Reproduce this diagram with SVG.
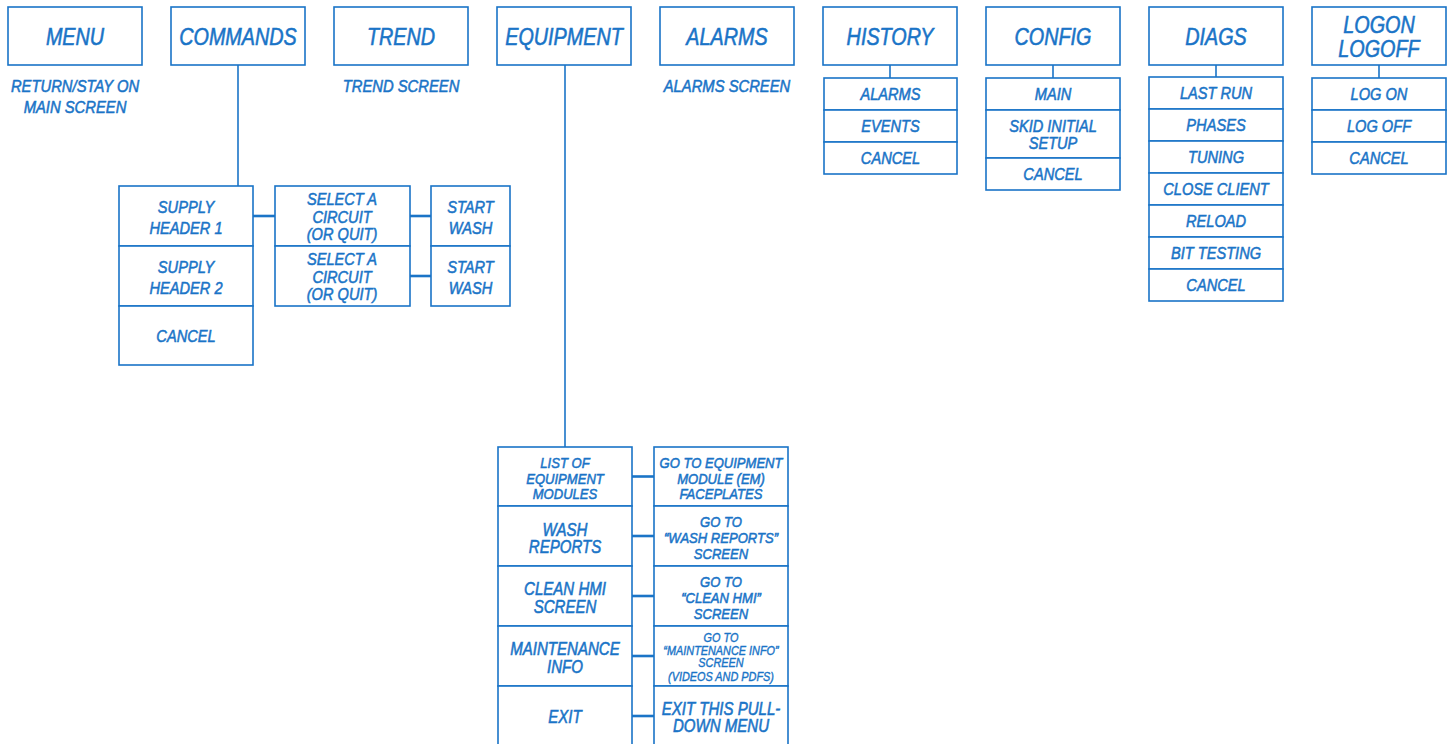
<svg xmlns="http://www.w3.org/2000/svg" width="1453" height="744" viewBox="0 0 1453 744">
<style>
.b{fill:#fff;stroke:#1a74c7;stroke-width:1.6}
.c{stroke:#1a74c7;stroke-width:1.6;fill:none}
.ct{stroke:#1a74c7;stroke-width:2.6;fill:none}
text{font-family:"Liberation Sans",Arial,sans-serif;font-style:italic;fill:#1a74c7;stroke:#1a74c7;stroke-width:0.55;text-anchor:middle}
.h{font-size:23px}
.s{font-size:17px}
.m{font-size:15px}
.l{font-size:17.5px}
.t{font-size:12.5px;stroke-width:0.4}
</style>
<rect width="1453" height="744" fill="#fff"/>
<g id="connectors">
<line class="c" x1="238" y1="65" x2="238" y2="186"/>
<line class="c" x1="565" y1="65" x2="565" y2="447"/>
<line class="c" x1="890" y1="65" x2="890" y2="78"/>
<line class="c" x1="1053" y1="65" x2="1053" y2="78"/>
<line class="c" x1="1216" y1="65" x2="1216" y2="77"/>
<line class="c" x1="1379" y1="65" x2="1379" y2="78"/>
<line class="ct" x1="253" y1="216" x2="275" y2="216"/>
<line class="ct" x1="410" y1="216" x2="431" y2="216"/>
<line class="ct" x1="410" y1="276" x2="431" y2="276"/>
<line class="ct" x1="632" y1="476.5" x2="654" y2="476.5"/>
<line class="ct" x1="632" y1="536" x2="654" y2="536"/>
<line class="ct" x1="632" y1="596" x2="654" y2="596"/>
<line class="ct" x1="632" y1="656" x2="654" y2="656"/>
<line class="ct" x1="632" y1="716" x2="654" y2="716"/>
</g>
<g id="menu">
<rect class="b" x="8" y="7" width="134" height="58"/>
<text class="h" transform="translate(75 45) scale(.86 1)">MENU</text>
<text class="s" transform="translate(75 92) scale(.87 1)">RETURN/STAY ON</text>
<text class="s" transform="translate(75 113) scale(.87 1)">MAIN SCREEN</text>
</g>
<g id="commands">
<rect class="b" x="171" y="7" width="134" height="58"/>
<text class="h" transform="translate(238 45) scale(.86 1)">COMMANDS</text>
</g>
<g id="trend">
<rect class="b" x="334" y="7" width="134" height="58"/>
<text class="h" transform="translate(401 45) scale(.86 1)">TREND</text>
<text class="s" transform="translate(401 92) scale(.87 1)">TREND SCREEN</text>
</g>
<g id="equipment">
<rect class="b" x="497" y="7" width="134" height="58"/>
<text class="h" transform="translate(564 45) scale(.86 1)">EQUIPMENT</text>
</g>
<g id="alarms">
<rect class="b" x="660" y="7" width="134" height="58"/>
<text class="h" transform="translate(727 45) scale(.86 1)">ALARMS</text>
<text class="s" transform="translate(727 92) scale(.87 1)">ALARMS SCREEN</text>
</g>
<g id="history">
<rect class="b" x="823" y="7" width="134" height="58"/>
<text class="h" transform="translate(890 45) scale(.86 1)">HISTORY</text>
</g>
<g id="config">
<rect class="b" x="986" y="7" width="134" height="58"/>
<text class="h" transform="translate(1053 45) scale(.86 1)">CONFIG</text>
</g>
<g id="diags">
<rect class="b" x="1149" y="7" width="134" height="58"/>
<text class="h" transform="translate(1216 45) scale(.86 1)">DIAGS</text>
</g>
<g id="logon">
<rect class="b" x="1312" y="7" width="134" height="58"/>
<text class="h" transform="translate(1379 33) scale(.86 1)">LOGON</text>
<text class="h" transform="translate(1379 57) scale(.86 1)">LOGOFF</text>
</g>
<g id="commands-sub">
<rect class="b" x="119" y="186" width="134" height="60"/>
<text class="s" transform="translate(186 213) scale(.86 1)">SUPPLY</text>
<text class="s" transform="translate(186 234) scale(.86 1)">HEADER 1</text>
<rect class="b" x="119" y="246" width="134" height="60"/>
<text class="s" transform="translate(186 273) scale(.86 1)">SUPPLY</text>
<text class="s" transform="translate(186 294) scale(.86 1)">HEADER 2</text>
<rect class="b" x="119" y="306" width="134" height="59"/>
<text class="s" transform="translate(186 342) scale(.86 1)">CANCEL</text>
</g>
<g id="select-circuit">
<rect class="b" x="275" y="186" width="135" height="60"/>
<text class="s" transform="translate(342 205) scale(.86 1)">SELECT A</text>
<text class="s" transform="translate(342 222.5) scale(.86 1)">CIRCUIT</text>
<text class="s" transform="translate(342 240) scale(.86 1)">(OR QUIT)</text>
<rect class="b" x="275" y="246" width="135" height="60"/>
<text class="s" transform="translate(342 265) scale(.86 1)">SELECT A</text>
<text class="s" transform="translate(342 282.5) scale(.86 1)">CIRCUIT</text>
<text class="s" transform="translate(342 300) scale(.86 1)">(OR QUIT)</text>
</g>
<g id="start-wash">
<rect class="b" x="431" y="186" width="79" height="60"/>
<text class="s" transform="translate(470.5 213) scale(.86 1)">START</text>
<text class="s" transform="translate(470.5 234) scale(.86 1)">WASH</text>
<rect class="b" x="431" y="246" width="79" height="60"/>
<text class="s" transform="translate(470.5 273) scale(.86 1)">START</text>
<text class="s" transform="translate(470.5 294) scale(.86 1)">WASH</text>
</g>
<g id="history-sub">
<rect class="b" x="824" y="78" width="133" height="32"/>
<text class="s" transform="translate(890.5 100) scale(.86 1)">ALARMS</text>
<rect class="b" x="824" y="110" width="133" height="32"/>
<text class="s" transform="translate(890.5 132) scale(.86 1)">EVENTS</text>
<rect class="b" x="824" y="142" width="133" height="32"/>
<text class="s" transform="translate(890.5 164) scale(.86 1)">CANCEL</text>
</g>
<g id="config-sub">
<rect class="b" x="986" y="78" width="134" height="32"/>
<text class="s" transform="translate(1053 100) scale(.86 1)">MAIN</text>
<rect class="b" x="986" y="110" width="134" height="48"/>
<text class="s" transform="translate(1053 131.5) scale(.86 1)">SKID INITIAL</text>
<text class="s" transform="translate(1053 149) scale(.86 1)">SETUP</text>
<rect class="b" x="986" y="158" width="134" height="32"/>
<text class="s" transform="translate(1053 180) scale(.86 1)">CANCEL</text>
</g>
<g id="diags-sub">
<rect class="b" x="1149" y="77" width="134" height="32"/>
<text class="s" transform="translate(1216 99) scale(.86 1)">LAST RUN</text>
<rect class="b" x="1149" y="109" width="134" height="32"/>
<text class="s" transform="translate(1216 131) scale(.86 1)">PHASES</text>
<rect class="b" x="1149" y="141" width="134" height="32"/>
<text class="s" transform="translate(1216 163) scale(.86 1)">TUNING</text>
<rect class="b" x="1149" y="173" width="134" height="32"/>
<text class="s" transform="translate(1216 195) scale(.86 1)">CLOSE CLIENT</text>
<rect class="b" x="1149" y="205" width="134" height="32"/>
<text class="s" transform="translate(1216 227) scale(.86 1)">RELOAD</text>
<rect class="b" x="1149" y="237" width="134" height="32"/>
<text class="s" transform="translate(1216 259) scale(.86 1)">BIT TESTING</text>
<rect class="b" x="1149" y="269" width="134" height="32"/>
<text class="s" transform="translate(1216 291) scale(.86 1)">CANCEL</text>
</g>
<g id="logon-sub">
<rect class="b" x="1312" y="78" width="134" height="32"/>
<text class="s" transform="translate(1379 100) scale(.86 1)">LOG ON</text>
<rect class="b" x="1312" y="110" width="134" height="32"/>
<text class="s" transform="translate(1379 132) scale(.86 1)">LOG OFF</text>
<rect class="b" x="1312" y="142" width="134" height="32"/>
<text class="s" transform="translate(1379 164) scale(.86 1)">CANCEL</text>
</g>
<g id="equipment-sub">
<rect class="b" x="498" y="447" width="134" height="59"/>
<text class="m" transform="translate(565 467.7) scale(.87 1)">LIST OF</text>
<text class="m" transform="translate(565 483.5) scale(.87 1)">EQUIPMENT</text>
<text class="m" transform="translate(565 499.3) scale(.87 1)">MODULES</text>
<rect class="b" x="498" y="506" width="134" height="60"/>
<text class="l" transform="translate(565 535.5) scale(.86 1)">WASH</text>
<text class="l" transform="translate(565 553.3) scale(.86 1)">REPORTS</text>
<rect class="b" x="498" y="566" width="134" height="60"/>
<text class="l" transform="translate(565 595) scale(.86 1)">CLEAN HMI</text>
<text class="l" transform="translate(565 612.7) scale(.86 1)">SCREEN</text>
<rect class="b" x="498" y="626" width="134" height="60"/>
<text class="l" transform="translate(565 655) scale(.86 1)">MAINTENANCE</text>
<text class="l" transform="translate(565 672.7) scale(.86 1)">INFO</text>
<rect class="b" x="498" y="686" width="134" height="62"/>
<text class="l" transform="translate(565 723.3) scale(.86 1)">EXIT</text>
</g>
<g id="equipment-actions">
<rect class="b" x="654" y="447" width="134" height="59"/>
<text class="m" transform="translate(721 467.7) scale(.87 1)">GO TO EQUIPMENT</text>
<text class="m" transform="translate(721 483.5) scale(.87 1)">MODULE (EM)</text>
<text class="m" transform="translate(721 499.3) scale(.87 1)">FACEPLATES</text>
<rect class="b" x="654" y="506" width="134" height="60"/>
<text class="m" transform="translate(721 527.3) scale(.87 1)">GO TO</text>
<text class="m" transform="translate(721 543.3) scale(.87 1)">“WASH REPORTS”</text>
<text class="m" transform="translate(721 559.3) scale(.87 1)">SCREEN</text>
<rect class="b" x="654" y="566" width="134" height="60"/>
<text class="m" transform="translate(721 587) scale(.87 1)">GO TO</text>
<text class="m" transform="translate(721 603) scale(.87 1)">“CLEAN HMI”</text>
<text class="m" transform="translate(721 619) scale(.87 1)">SCREEN</text>
<rect class="b" x="654" y="626" width="134" height="60"/>
<text class="t" transform="translate(721 642.3) scale(.87 1)">GO TO</text>
<text class="t" transform="translate(721 654.5) scale(.87 1)">“MAINTENANCE INFO”</text>
<text class="t" transform="translate(721 667.3) scale(.87 1)">SCREEN</text>
<text class="t" transform="translate(721 680.7) scale(.87 1)">(VIDEOS AND PDFS)</text>
<rect class="b" x="654" y="686" width="134" height="62"/>
<text class="l" transform="translate(721 715) scale(.86 1)">EXIT THIS PULL-</text>
<text class="l" transform="translate(721 732.3) scale(.86 1)">DOWN MENU</text>
</g>
</svg>
